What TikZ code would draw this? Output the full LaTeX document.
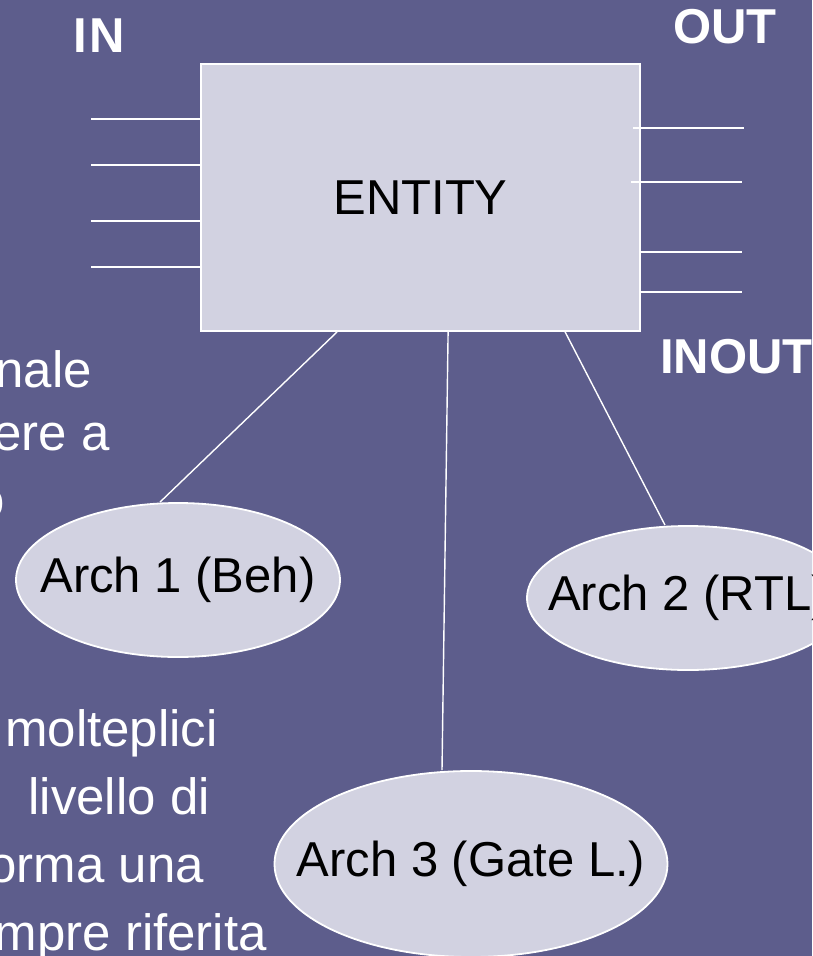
\documentclass[tikz,border=0pt]{standalone}
\usepackage{fontspec}
\setmainfont{Liberation Sans}
\usetikzlibrary{shapes.geometric}
\definecolor{bgc}{RGB}{93,93,140}
\definecolor{boxc}{RGB}{210,210,225}
\begin{document}
\begin{tikzpicture}[x=1pt,y=-1pt,
  wire/.style={draw=white,line width=1.8pt},
  lbl/.style={text=white,font=\fontsize{49}{58}\selectfont\bfseries,inner sep=0,anchor=base west},
  body/.style={text=white,font=\fontsize{51}{60}\selectfont,inner sep=0,anchor=base east},
  archnode/.style={ellipse,draw=white,line width=1.8pt,fill=boxc,inner sep=0,font=\fontsize{49}{58}\selectfont},
  entbox/.style={rectangle,draw=white,line width=1.8pt,fill=boxc,inner sep=0,font=\fontsize{49}{58}\selectfont}]
\useasboundingbox (0,0) rectangle (812,956);
\fill[bgc] (0,0) rectangle (812,956);
\clip (0,0) rectangle (812,956);

% body text fragments (clipped at left edge)
\node[body] (t1) at (92,387) {nale};
\node[body] (t2) at (110,450) {ere a};
\node[body] (t3) at (5,517) {o};
\node[body] (t4) at (218,746) {molteplici};
\node[body] (t5) at (210,814) {livello di};
\node[body] (t6) at (204,882) {orma una};
\node[body] (t7) at (267,950) {mpre riferita};

% port labels
\node[lbl] (lin) at (73,52) {I\kern3pt N};
\node[lbl] (lout) at (673,43) {OUT};
\node[lbl] (linout) at (660,373) {INOUT};

% entity
\node[entbox,minimum width=439pt,minimum height=267pt] (ent) at (420.5,197.5) {\raisebox{-3pt}{ENTITY}};

% input ports
\foreach \yy [count=\i] in {119,165,221,267} {
  \coordinate (inp\i) at (91,\yy);
  \draw[wire] (inp\i) -- (inp\i -| ent.west);
}
% output ports
\coordinate (out1) at (744,128);
\coordinate (out2) at (742,182);
\coordinate (out3) at (742,252);
\coordinate (out4) at (742,292);
\draw[wire] ([xshift=-8pt]out1 -| ent.east) -- (out1);
\draw[wire] ([xshift=-10pt]out2 -| ent.east) -- (out2);
\draw[wire] (out3 -| ent.east) -- (out3);
\draw[wire] (out4 -| ent.east) -- (out4);

% architectures
\node[archnode,minimum width=324pt,minimum height=154pt] (a1) at (178,580) {\makebox[0pt][c]{Arch 1 (Beh)}};
\node[archnode,minimum width=322pt,minimum height=144pt] (a2) at (688,598) {\makebox[0pt][c]{Arch 2 (RTL)}};
\node[archnode,minimum width=393pt,minimum height=186pt] (a3) at (471,864) {\makebox[0pt][c]{Arch 3 (Gate L.)}};

\draw[wire,line width=1.4pt] ([xshift=137pt]ent.south west) -- ([xshift=-18pt]a1.north);
\draw[wire,line width=1.4pt] ([xshift=248pt]ent.south west) -- ([xshift=-29pt]a3.north);
\draw[wire,line width=1.4pt] ([xshift=365pt]ent.south west) -- ([xshift=-23pt]a2.north);
\end{tikzpicture}
\end{document}
